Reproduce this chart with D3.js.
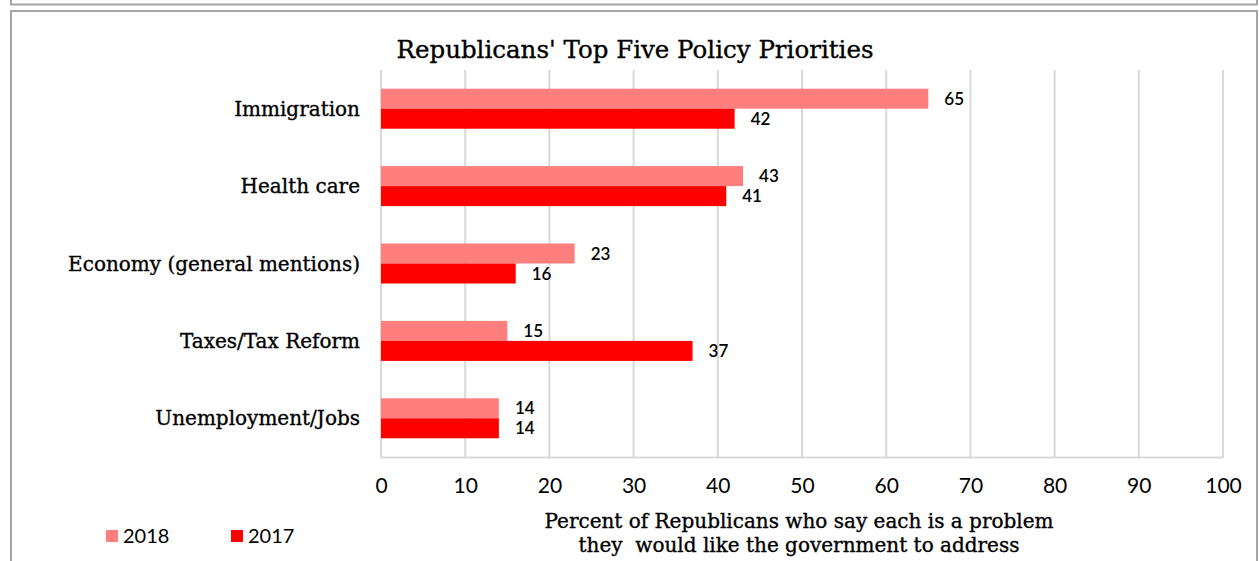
<!DOCTYPE html>
<html>
<head>
<meta charset="utf-8">
<script src="https://cdn.jsdelivr.net/npm/d3@7"></script>
<style>
  body { margin: 0; background: #fff; }
  svg { display: block; }
  .serif { font-family: "DejaVu Serif", serif; fill: #000; stroke: #000; stroke-width: 0.35px; }
  .sans { font-family: Lato, "Open Sans", sans-serif; fill: #000; }
</style>
</head>
<body>
<svg id="chart" width="1259" height="561"></svg>
<script>
// data
const categories = ["Immigration", "Health care", "Economy (general mentions)", "Taxes/Tax Reform", "Unemployment/Jobs"];
const seriesNames = ["2018", "2017"];
const values2018 = [65, 43, 23, 15, 14];
const values2017 = [42, 41, 16, 37, 14];
const xTicks = [0, 10, 20, 30, 40, 50, 60, 70, 80, 90, 100];
const colors = ["#ff7f7f", "#ff0000"];

const svg = d3.select("#chart");

// frames
svg.append("rect").attr("x", 11).attr("y", -20).attr("width", 1246).attr("height", 24.5)
    .attr("fill", "none").attr("stroke", "#a6a6a6").attr("stroke-width", 2);
svg.append("rect").attr("x", 11).attr("y", 11).attr("width", 1246).attr("height", 600)
    .attr("fill", "none").attr("stroke", "#a6a6a6").attr("stroke-width", 2);

const plotLeft = 381, plotRight = 1223, plotTop = 70, plotBottom = 457;

const x = d3.scaleLinear().domain([0, 100]).range([plotLeft, plotRight]);
const y = d3.scaleBand().domain(categories).range([plotTop, plotBottom])
    .paddingInner(0.483).paddingOuter(0.2415);
const ySub = d3.scaleBand().domain(seriesNames).range([0, y.bandwidth()]);

// gridlines
svg.append("g").selectAll("line")
    .data(xTicks.slice(1))
    .enter().append("line")
    .attr("x1", d => x(d)).attr("x2", d => x(d))
    .attr("y1", plotTop).attr("y2", plotBottom)
    .attr("stroke", "#d9d9d9").attr("stroke-width", 2);

// bottom axis
const xAxis = svg.append("g")
    .attr("transform", `translate(0, ${plotBottom})`)
    .call(d3.axisBottom(x).tickValues(xTicks).tickSize(0).tickPadding(21));
xAxis.select(".domain").attr("stroke", "#d9d9d9").attr("stroke-width", 2);
xAxis.selectAll("text")
    .attr("class", "sans")
    .style("font-size", "21px")
    .attr("fill", "#000");

// left axis line
svg.append("line")
    .attr("x1", plotLeft).attr("x2", plotLeft).attr("y1", plotTop).attr("y2", plotBottom + 1)
    .attr("stroke", "#d9d9d9").attr("stroke-width", 2);

// bars
const rows = categories.map((c, i) => ({cat: c, vals: [values2018[i], values2017[i]]}));
const groups = svg.append("g").selectAll("g")
    .data(rows)
    .enter().append("g")
    .attr("transform", d => `translate(0, ${y(d.cat)})`);

groups.selectAll("rect")
    .data(d => d.vals.map((v, j) => ({series: seriesNames[j], value: v, idx: j})))
    .enter().append("rect")
    .attr("x", x(0))
    .attr("y", d => ySub(d.series))
    .attr("width", d => x(d.value) - x(0))
    .attr("height", ySub.bandwidth())
    .attr("fill", d => colors[d.idx]);

groups.selectAll("text.val")
    .data(d => d.vals.map((v, j) => ({series: seriesNames[j], value: v})))
    .enter().append("text")
    .attr("class", "val sans")
    .attr("x", d => x(d.value) + 16)
    .attr("y", d => ySub(d.series) + ySub.bandwidth() / 2)
    .attr("dy", "0.36em")
    .style("font-size", "17px")
    .style("font-weight", "600")
    .text(d => d.value);

// category labels
svg.append("g").selectAll("text")
    .data(categories)
    .enter().append("text")
    .attr("class", "serif")
    .attr("x", 360)
    .attr("y", d => y(d) + y.bandwidth() / 2)
    .attr("dy", "0.35em")
    .attr("text-anchor", "end")
    .style("font-size", "20px")
    .text(d => d);

// title
svg.append("text")
    .attr("class", "serif")
    .attr("x", 635).attr("y", 58)
    .attr("text-anchor", "middle")
    .style("font-size", "24.5px")
    .text("Republicans' Top Five Policy Priorities");

// axis title
const axisTitle = ["Percent of Republicans who say each is a problem", "they  would like the government to address"];
svg.append("g").selectAll("text")
    .data(axisTitle)
    .enter().append("text")
    .attr("class", "serif")
    .attr("x", 799)
    .attr("y", (d, i) => 528 + i * 24)
    .attr("text-anchor", "middle")
    .style("font-size", "20px")
    .style("white-space", "pre")
    .attr("xml:space", "preserve")
    .text(d => d);

// legend
const legend = svg.append("g").selectAll("g")
    .data(seriesNames)
    .enter().append("g")
    .attr("transform", (d, i) => `translate(${106 + i * 125}, 530)`);
legend.append("rect")
    .attr("width", 12).attr("height", 12)
    .attr("fill", (d, i) => colors[i]);
legend.append("text")
    .attr("class", "sans")
    .attr("x", 17).attr("y", 6)
    .attr("dy", "0.36em")
    .style("font-size", "20px")
    .text(d => d);
</script>
</body>
</html>
